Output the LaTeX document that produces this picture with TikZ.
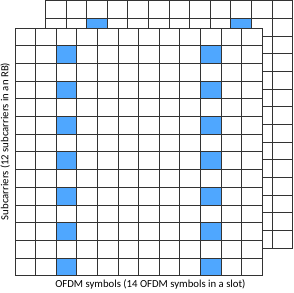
\documentclass[tikz,border=0pt]{standalone}
\usepackage{fontspec}
\setmainfont{Carlito}
\definecolor{rbblue}{RGB}{79,167,255}
\newcommand\rbgrid[2]{%
  \fill[white] (#1,#2) rectangle ++(247.3,247.7);
  \foreach \c in {2,9} \foreach \r in {1,3,...,13}
    \fill[rbblue] ({#1+\c*20.61},{#2+\r*17.69}) rectangle ++(20.61,17.69);
  \foreach \i in {0,...,12} \draw[gridline] ({#1+\i*20.61},#2) -- ++(0,247.7);
  \foreach \j in {0,...,14} \draw[gridline] (#1,{#2+\j*17.69}) -- ++(247.3,0);
}
\begin{document}
\begin{tikzpicture}[x=1pt,y=-1pt,
  gridline/.style={draw=black!80,line width=0.8pt},
  lab/.style={font=\fontsize{10.75}{13}\selectfont,inner sep=0pt}]
\useasboundingbox (0,0) rectangle (294,292);
\rbgrid{45.3}{0.6}
\rbgrid{15}{28}
\node[lab,rotate=90] (ylab) at (5.2,141.5) {Subcarriers (12 subcarriers in an RB)};
\node[lab] (xlab) at (150.4,284.3) {OFDM symbols (14 OFDM symbols in a slot)};
\end{tikzpicture}
\end{document}
